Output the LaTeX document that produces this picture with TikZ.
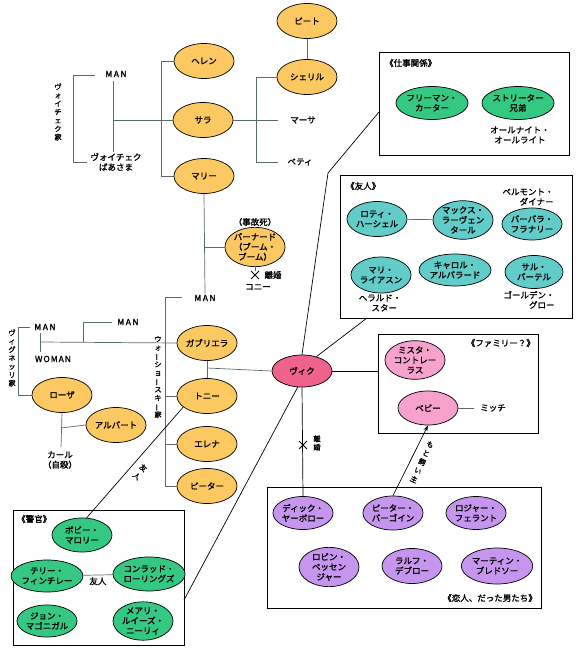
\documentclass[tikz,border=0pt]{standalone}
\usepackage{fontspec}
\setmainfont{Noto Sans CJK JP}[AutoFakeBold=1.5]
\usetikzlibrary{shapes.geometric,shapes.misc,arrows.meta}
\definecolor{famorange}{RGB}{252,200,98}
\definecolor{vicpink}{RGB}{238,98,140}
\definecolor{lightpink}{RGB}{246,162,205}
\definecolor{frteal}{RGB}{98,204,200}
\definecolor{copgreen}{RGB}{52,200,130}
\definecolor{lovpurple}{RGB}{198,150,238}
\definecolor{treegray}{RGB}{90,105,105}
\newcommand{\jp}{\fontsize{8.5}{10}\selectfont\bfseries}
\newcommand{\jps}{\fontsize{7.2}{8.4}\selectfont\bfseries}
\newcommand{\jpr}{\fontsize{7.2}{9.6}\selectfont\bfseries}
\newcommand{\cho}{\rotatebox[origin=c]{90}{ー}}
\tikzset{
  pers/.style={ellipse, draw=black, line width=0.7pt, fill=#1, minimum width=60pt,
    minimum height=35pt, inner sep=0pt, align=center, font=\jp},
  word/.style={inner sep=1pt, align=center, font=\jp},
  tate/.style={inner sep=0pt, align=center, font=\jps},
  frame/.style={draw=black, line width=0.7pt, inner sep=0pt},
  tree/.style={draw=treegray, line width=0.7pt},
  link/.style={draw=black, line width=0.7pt},
  xmark/.style={cross out, draw=black, line width=0.8pt, minimum size=7pt, inner sep=0pt},
}
\begin{document}
\begin{tikzpicture}[x=1pt,y=-1pt]
\useasboundingbox (0,0) rectangle (578,652);
% Wojciech
\node[word] (wman) at (116,74) {M\kern1.5pt A\kern1.5pt N};
\node[word] (gran) at (116,162) {ヴォイチェク\\ばあさま};
\node[tate] (wlab) at (58,112) {ヴ\\ォ\\イ\\チ\\ェ\\ク\\家};
\node[pers=famorange] (helen) at (204,61) {ヘレン};
\node[pers=famorange] (sara) at (203,120) {サラ};
\node[pers=famorange] (mary) at (204,176) {マリー};
\node[pers=famorange] (pete) at (307,21) {ピート};
\node[pers=famorange] (sheryl) at (307,77) {シェリル};
\node[word] (martha) at (303,120) {マーサ};
\node[word] (betty) at (300,162) {ベティ};
\draw[tree] (95,75) -- (73,75) -- (73,162) -- (87,162);
\draw[tree] (113,81) -- (113,152);
\draw[tree] (113,120) -- (sara.west);
\draw[tree] (helen.west) -- (161,61) -- (161,176) -- (mary.west);
\draw[tree] (sara.east) -- (278,120);
\draw[tree] (sheryl.west) -- (256,77) -- (256,162) -- (278,162);
\draw[tree] (pete) -- (sheryl);
% Bernard
\node[pers=famorange, minimum height=34pt] (bern) at (255,247) {バーナード\\（ブーム・\\ブーム）};
\node[word] (jiko) at (255,222) {（事故死）};
\node[xmark] (x1) at (255,275) {};
\node[word] (rikon1) at (273,275) {離婚};
\node[word] (conny) at (258,287) {コニー};
\draw[tree] (bern.south) -- (x1);
% Warshawski
\node[word] (man2) at (205,298) {M\kern1.5pt A\kern1.5pt N};
\node[tate] (klab) at (158,377) {ウ\\ォ\\\cho\\シ\\ョ\\\cho\\ス\\キ\\\cho\\家};
\node[pers=famorange] (gab) at (207,343) {ガブリエラ};
\node[pers=famorange] (tony) at (207,396) {トニー};
\node[pers=famorange] (elena) at (207,444) {エレナ};
\node[pers=famorange] (peter) at (207,486) {ピーター};
\draw[tree] (mary.south) -- (man2.north);
\draw[tree] (205,247) -- (bern.west);
\draw[tree] (182,297) -- (165,297) -- (165,486) -- (peter.west);
\draw[tree] (165,396) -- (tony.west);
\draw[tree] (165,444) -- (elena.west);
\draw[tree] (gab.south) -- (tony.north);
% Vignetti
\node[word] (vman) at (45,327) {M\kern1.5pt A\kern1.5pt N};
\node[word] (vwoman) at (53,359) {W\kern1pt O\kern1pt M\kern1pt A\kern1pt N};
\node[word] (vman2) at (128,322) {M\kern1.5pt A\kern1.5pt N};
\node[tate] (vlab) at (12,358) {ヴ\\ィ\\グ\\ネ\\ッ\\リ\\家};
\node[pers=famorange] (rosa) at (62,395) {ローザ};
\node[pers=famorange] (albert) at (116,425) {アルバート};
\node[word] (karl) at (60,460) {カール\\（自殺）};
\draw[tree] (30,327) -- (18,327) -- (18,395) -- (rosa.west);
\draw[tree] (40,333) -- (40,352);
\draw[tree] (40,342) -- (gab.west);
\draw[tree] (83,342) -- (83,322) -- (112,322);
\draw[tree] (rosa.south) -- (61,447);
\draw[tree] (61,428) -- (albert.west);
% Vic
\node[pers=vicpink, minimum height=32pt] (vic) at (302,371) {ヴィク};
\draw[tree] (207,368) -- (vic.west);
% boxes
\node[frame, minimum width=190pt, minimum height=103pt] (work) at (474,103.5) {};
\node[word, anchor=west] (worklab) at (384,63) {《仕事関係》};
\node[pers=copgreen, minimum height=33pt] (carter) at (432,103) {フリーマン・\\カーター};
\node[pers=copgreen, minimum width=54pt, minimum height=33pt] (streeter) at (518,103) {ストリーター\\兄弟};
\node[word] (allnight) at (520,135) {オールナイト・\\オールライト};

\node[frame, minimum width=232pt, minimum height=143pt] (friends) at (456,246.5) {};
\node[word, anchor=west] (frlab) at (345,186) {《友人》};
\node[pers=frteal] (lottie) at (377,219) {ロティ・\\ハーシェル};
\node[pers=frteal, minimum width=58pt, minimum height=34pt] (max) at (463,220) {マックス・\\ラーヴェン\\タール};
\node[pers=frteal, minimum width=56pt, minimum height=32pt] (barbara) at (532,224) {バーバラ・\\フラナリー};
\node[word, align=right] (belmont) at (528,197) {ベルモント・\\ダイナー};
\node[pers=frteal, minimum height=36pt] (murray) at (381,275) {マリ・\\ライアスン};
\node[word] (herald) at (380,303) {ヘラルド・\\\hspace*{1em}スター};
\node[pers=frteal, minimum height=32pt] (carol) at (455,270) {キャロル・\\アルバラード};
\node[pers=frteal, minimum width=58pt, minimum height=33pt] (sal) at (534,272) {サル・\\バーテル};
\node[word, align=right] (golden) at (529,300) {ゴールデン・\\グロー};
\draw[tree] (lottie) -- (max);

\node[frame, minimum width=160pt, minimum height=99pt] (family) at (458,383.5) {};
\node[word, anchor=east] (famlab) at (536,343) {《ファミリー？》};
\node[pers=lightpink, minimum width=58pt, minimum height=36pt] (contreras) at (415,360) {ミスタ・\\コントレー\\ラス};
\node[pers=lightpink, minimum height=34pt] (baby) at (428,408) {ベビー};
\node[word] (mitch) at (493,408) {ミッチ};
\draw[tree, shorten >=5pt] (baby.east) -- (mitch.west);

\node[frame, minimum width=171pt, minimum height=135pt] (police) at (98.5,577.5) {};
\node[word, anchor=west] (coplab) at (16,519) {《警官》};
\node[pers=copgreen, minimum height=34pt] (bobby) at (82,535) {ボビー・\\マロリー};
\node[pers=copgreen, minimum height=32pt] (terry) at (47,576) {テリー・\\フィンチレー};
\node[pers=copgreen, minimum width=58pt, minimum height=34pt] (conrad) at (149,574) {コンラッド・\\ローリングズ};
\node[pers=copgreen, minimum height=32pt] (john) at (47,621) {ジョン・\\マゴニガル};
\node[pers=copgreen] (louise) at (143,621) {メアリ・\\ルイーズ・\\ニーリィ};
\draw[tree] (terry) -- (conrad) node[word, midway, below=1pt] (yujin) {友人};

\node[frame, minimum width=274pt, minimum height=121pt] (lovers) at (404,547.5) {};
\node[word, anchor=east] (lovlab) at (538,598) {《恋人、だった男たち》};
\node[pers=lovpurple, minimum height=33pt] (dick) at (303,513) {ディック・\\ヤーボロー};
\node[pers=lovpurple, minimum height=34pt] (burgoyne) at (393,513) {ピーター・\\バーゴイン};
\node[pers=lovpurple, minimum width=58pt, minimum height=33pt] (roger) at (476,513) {ロジャー・\\フェラント};
\node[pers=lovpurple] (robin) at (329,567) {ロビン・\\ベッセン\\ジャー};
\node[pers=lovpurple] (ralph) at (412,566) {ラルフ・\\デブロー};
\node[pers=lovpurple, minimum width=58pt, minimum height=36pt] (martin) at (497,566) {マーティン・\\ブレドソー};

% links from Vic
\draw[link] (vic.north) -- (328,173) -- (379,112);
\draw[link] (vic.45) -- (367,318);
\draw[link] (vic.east) -- (family.west |- vic.east);
\draw[link] (vic.south) -- (dick.north);
\node[xmark] (x2) at (303,445) {};
\node[tate] (rikon2) at (317,443) {離\\婚};
\draw[link] (vic.255) -- (184,600);
\draw[link] (tony.205) -- (bobby.75);
\node[tate, font=\fontsize{7.2}{10.5}\selectfont\bfseries, rotate=-39] (tomo) at (140,472) {友\\人};
\draw[link, -{Stealth[length=6pt,width=4pt]}] (burgoyne.north) -- (baby.south);
\node[tate, font=\jpr, rotate=-25] (owner) at (422,462) {も\\と\\飼\\い\\主};
\end{tikzpicture}
\end{document}
